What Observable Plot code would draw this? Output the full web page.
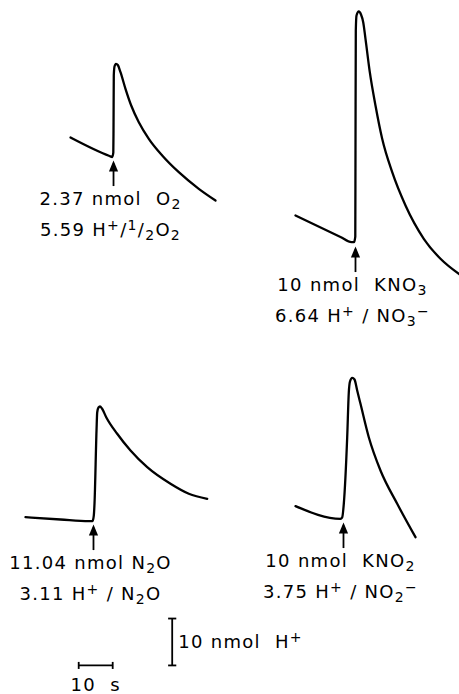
<!DOCTYPE html>
<html><head><meta charset="utf-8">
<script src="https://cdn.jsdelivr.net/npm/d3@7"></script>
<script src="https://cdn.jsdelivr.net/npm/@observablehq/plot@0.6"></script>
<style>body{margin:0;background:#fff} svg{display:block}</style>
</head><body><div id="chart"></div>
<script>
// Recorder traces: time (s) on the chart paper, H+ level (nmol, arbitrary zero)
const traceNames = ["O2", "KNO3", "N2O", "KNO2"];

const o2Time = [20.59, 32.06, 32.85, 33.18, 33.24, 33.32, 33.53, 33.97, 34.5, 35.29, 36.76, 38.44, 40.68, 43.62, 47.56, 52.44, 58.32, 63.24];
const o2H    = [118.78, 114.84, 114.63, 115.58, 120.28, 132.0, 133.92, 134.5, 134.24, 132.71, 129.17, 125.61, 122.05, 118.51, 114.95, 111.38, 107.84, 105.35];

const kno3Time = [86.76, 100.0, 103.24, 103.97, 104.35, 104.41, 104.5, 104.71, 105.38, 106.03, 106.68, 107.35, 108.62, 110.29, 112.26, 115.21, 119.12, 124.5, 129.41, 135.0];
const kno3H    = [102.15, 97.57, 96.46, 96.46, 97.67, 116.01, 141.6, 144.8, 145.65, 145.01, 143.37, 139.83, 132.71, 125.61, 118.51, 111.38, 104.28, 97.18, 92.92, 89.6];

const n2oTime = [7.35, 17.65, 25.97, 27.06, 27.44, 27.65, 28.24, 28.44, 28.82, 29.26, 29.85, 31.09, 34.32, 38.24, 43.15, 50.0, 55.38, 60.79];
const n2oH    = [37.81, 37.32, 36.96, 37.0, 38.17, 40.73, 56.3, 60.14, 61.2, 61.42, 60.99, 59.14, 55.6, 52.03, 48.47, 44.93, 42.8, 41.73];

const kno2Time = [86.76, 100.0, 100.5, 100.97, 101.97, 102.44, 102.79, 103.44, 104.12, 104.91, 105.88, 108.32, 111.76, 116.68, 122.06];
const kno2H    = [40.16, 37.47, 37.75, 40.67, 54.87, 64.4, 66.75, 67.54, 67.18, 64.83, 61.99, 54.87, 47.77, 40.67, 33.55];

// additions (arrows): time of addition and trace level at that moment
const addTime  = [33.24, 104.41, 27.35, 100.88];
const addLevel = [114.73, 96.39, 37.1, 37.53];
const labelAmount = ["2.37 nmol\u00a0 O_2", "10 nmol\u00a0 KNO_3", "11.04 nmol N_2O", "10 nmol\u00a0 KNO_2"];
const labelRatio  = ["5.59 H^+/^1/_2O_2", "6.64 H^+ / NO_3^\u2212", "3.11 H^+ / N_2O", "3.75 H^+ / NO_2^\u2212"];

// calibration bars
const barSeconds = 10;
const barNmol = 10;
const barTimeLabel = "10\u00a0 s";
const barNmolLabel = "10 nmol\u00a0 H^+";

const series = [[o2Time, o2H], [kno3Time, kno3H], [n2oTime, n2oH], [kno2Time, kno2H]];
const rows = series.flatMap(([T, H], k) => T.map((t, i) => ({trace: traceNames[k], t, h: H[i]})));
const idx = d3.range(traceNames.length);

// calibration bar anchor (paper coords)
const barT0 = 23, barH0 = 6.2, barVT = 50.5;

const arrowHead = {draw(ctx) { ctx.moveTo(0, 0); ctx.lineTo(4.6, 11); ctx.lineTo(-4.6, 11); ctx.closePath(); }};

const FS = 18;
const chart = Plot.plot({
  width: 459, height: 694, margin: 0,
  x: {domain: [0, 135], axis: null},
  y: {domain: [0, 148], axis: null},
  style: {fontFamily: "DejaVu Sans", fontSize: FS + "px", background: "white", color: "black", letterSpacing: "1.3px"},
  marks: [
    Plot.line(rows, {x: "t", y: "h", z: "trace", stroke: "black", strokeWidth: 2.3, curve: "monotone-x", strokeLinejoin: "round", strokeLinecap: "round"}),
    // arrows
    Plot.link(idx, {x1: i => addTime[i], x2: i => addTime[i], y1: i => addLevel[i] - 1.5, y2: i => addLevel[i] - 6.3, stroke: "black", strokeWidth: 1.8}),
    Plot.dot(idx, {x: i => addTime[i], y: i => addLevel[i] - 0.85, symbol: arrowHead, fill: "black", stroke: "none"}),
    Plot.text(idx, {x: i => addTime[i], y: i => addLevel[i], text: i => labelAmount[i], lineAnchor: "bottom", dy: 48, dx: -3, textAnchor: "middle", fill: "black"}),
    Plot.text(idx, {x: i => addTime[i], y: i => addLevel[i], text: i => labelRatio[i], lineAnchor: "bottom", dy: 79, dx: -3, textAnchor: "middle", fill: "black"}),
    // calibration: 10 s
    Plot.link([0], {x1: barT0, x2: barT0 + barSeconds, y1: barH0, y2: barH0, stroke: "black", strokeWidth: 1.8}),
    Plot.link([barT0, barT0 + barSeconds], {x1: d => d, x2: d => d, y1: barH0 - 0.75, y2: barH0 + 0.75, stroke: "black", strokeWidth: 1.8}),
    Plot.text([barTimeLabel], {x: barT0 + barSeconds / 2, y: barH0, text: d => d, lineAnchor: "bottom", dy: 26, textAnchor: "middle", fill: "black"}),
    // calibration: 10 nmol H+
    Plot.link([0], {x1: barVT, x2: barVT, y1: barH0, y2: barH0 + barNmol, stroke: "black", strokeWidth: 1.8}),
    Plot.link([barH0, barH0 + barNmol], {x1: barVT - 1.2, x2: barVT + 1.2, y1: d => d, y2: d => d, stroke: "black", strokeWidth: 1.8}),
    Plot.text([barNmolLabel], {x: barVT, y: barH0 + barNmol / 2, text: d => d, textAnchor: "start", dx: 6, fill: "black"})
  ]
});

// render chemical sub/superscripts as real tspans
(function richText(svg) {
  const ns = "http://www.w3.org/2000/svg";
  const SUB = 4, SUP = -6;
  for (const el of svg.querySelectorAll("text")) {
    const s = el.textContent;
    if (!/[_^]/.test(s)) continue;
    while (el.firstChild) el.removeChild(el.firstChild);
    let shift = 0, buf = "";
    const flush = () => {
      if (!buf) return;
      const t = document.createElementNS(ns, "tspan");
      if (shift) { t.setAttribute("dy", -shift); shift = 0; }
      t.textContent = buf; el.appendChild(t); buf = "";
    };
    for (let i = 0; i < s.length; i++) {
      const c = s[i];
      if ((c === "_" || c === "^") && i + 1 < s.length) {
        flush();
        const target = c === "_" ? SUB : SUP;
        const t = document.createElementNS(ns, "tspan");
        t.setAttribute("dy", target - shift); shift = target;
        t.setAttribute("font-size", "78%");
        t.textContent = s[++i];
        el.appendChild(t);
      } else buf += c;
    }
    flush();
  }
})(chart);

document.getElementById("chart").appendChild(chart);
</script>
</body></html>
